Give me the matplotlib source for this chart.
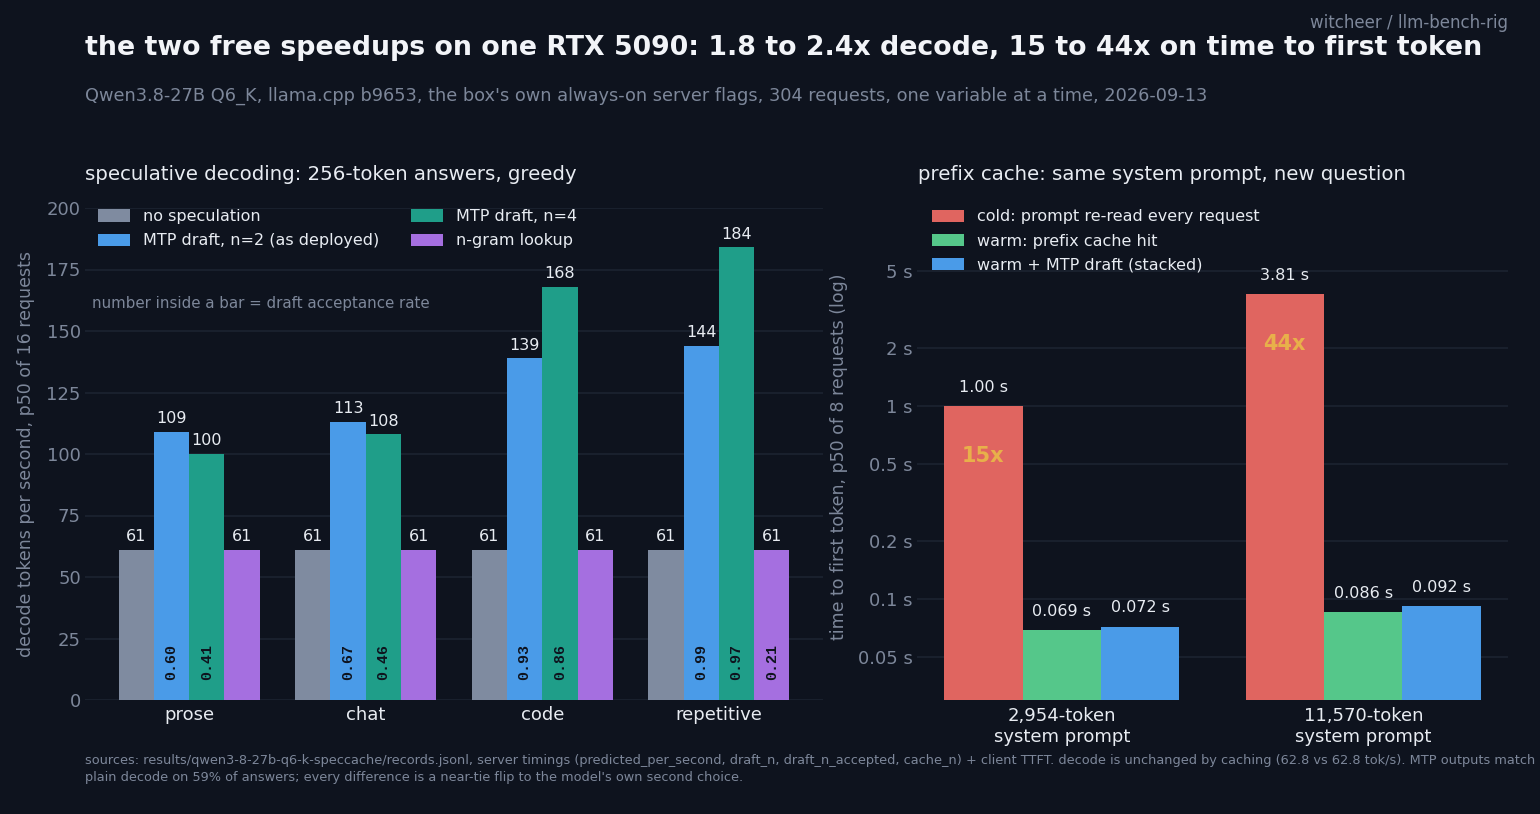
import matplotlib
matplotlib.use("Agg")
import matplotlib.pyplot as plt
import numpy as np
from matplotlib.patches import Patch

# ---------------- data ----------------
categories = ["prose", "chat", "code", "repetitive"]
series_names = ["no speculation", "MTP draft, n=2 (as deployed)", "MTP draft, n=4", "n-gram lookup"]
no_spec = [61, 61, 61, 61]
mtp_n2 = [109, 113, 139, 144]
mtp_n4 = [100, 108, 168, 184]
ngram = [61, 61, 61, 61]
acc_n2 = [0.60, 0.67, 0.93, 0.99]
acc_n4 = [0.41, 0.46, 0.86, 0.97]
acc_ngram = [None, None, None, 0.21]

prompt_labels = ["2,954-token\nsystem prompt", "11,570-token\nsystem prompt"]
ttft_names = ["cold: prompt re-read every request", "warm: prefix cache hit", "warm + MTP draft (stacked)"]
ttft_cold = [1.00, 3.81]
ttft_warm = [0.069, 0.086]
ttft_warm_mtp = [0.072, 0.092]
speedup_labels = ["15x", "44x"]
ttft_ticks = [0.05, 0.1, 0.2, 0.5, 1, 2, 5]
ttft_tick_labels = ["0.05 s", "0.1 s", "0.2 s", "0.5 s", "1 s", "2 s", "5 s"]

# ---------------- style ----------------
BG = "#0e131e"
GRID = "#1c2331"
TXT = "#e8ecf2"
MUTED = "#7d879a"
C_GRAY = "#7f8ba0"
C_BLUE = "#4a9be8"
C_TEAL = "#1f9e89"
C_PURP = "#a56fe0"
C_RED = "#e06560"
C_GREEN = "#55c78a"
C_GOLD = "#e8b04a"

plt.rcParams["font.family"] = ["DejaVu Sans"]

W, H = 1540, 814
fig = plt.figure(figsize=(W / 100, H / 100), dpi=100, facecolor=BG)

def fx(px):
    return px / W

def fy(py):
    return 1 - py / H

# ---------------- left axes ----------------
axL = fig.add_axes([fx(85), fy(700), fx(823 - 85), (700 - 208) / H], facecolor=BG)
x = np.arange(len(categories))
bw = 0.2
series = [no_spec, mtp_n2, mtp_n4, ngram]
colors = [C_GRAY, C_BLUE, C_TEAL, C_PURP]
accs = [None, acc_n2, acc_n4, acc_ngram]
for i, (vals, col, acc) in enumerate(zip(series, colors, accs)):
    xs = x + (i - 1.5) * bw
    axL.bar(xs, vals, width=bw, color=col, zorder=3, linewidth=0)
    for xi, v in zip(xs, vals):
        axL.annotate(f"{v}", (xi, v), xytext=(0, 4), textcoords="offset points",
                     ha="center", va="bottom", color=TXT, fontsize=11.5)
    if acc is not None:
        for xi, a in zip(xs, acc):
            if a is None:
                continue
            axL.text(xi, 8, f"{a:.2f}", rotation=90, ha="center", va="bottom",
                     color=BG, fontsize=10.8, fontweight="bold", family="Liberation Mono")

axL.set_xlim(-0.59, 3.59)
axL.set_ylim(0, 200)
axL.set_yticks([0, 25, 50, 75, 100, 125, 150, 175, 200])
axL.set_xticks(x)
axL.set_xticklabels(categories, fontsize=13)
for lab in axL.get_xticklabels():
    lab.set_color(TXT)
axL.tick_params(axis="y", colors=MUTED, labelsize=13, length=0, pad=3)
axL.tick_params(axis="x", length=0, pad=4)
axL.grid(axis="y", color=GRID, linewidth=1.2, zorder=0)
axL.set_axisbelow(True)
for s in axL.spines.values():
    s.set_visible(False)
axL.set_ylabel("decode tokens per second, p50 of 16 requests", color=MUTED, fontsize=12.5, labelpad=8)

handlesL = [Patch(facecolor=c, edgecolor="none") for c in colors]
axL.legend(handlesL, series_names, loc="upper left", ncol=2, frameon=False,
           fontsize=11.5, labelcolor=TXT, bbox_to_anchor=(-0.002, 1.027),
           handlelength=2.0, handleheight=0.8, handletextpad=0.8,
           columnspacing=2.0, labelspacing=0.58)
axL.text(0.01, 0.805, "number inside a bar = draft acceptance rate", transform=axL.transAxes,
         color=MUTED, fontsize=10.85, ha="left", va="center")

# ---------------- right axes ----------------
axR = fig.add_axes([fx(917), fy(700), fx(1508 - 917), 487 / H], facecolor=BG)
xr = np.arange(len(prompt_labels))
bwr = 0.26
rseries = [ttft_cold, ttft_warm, ttft_warm_mtp]
rcolors = [C_RED, C_GREEN, C_BLUE]
for i, (vals, col) in enumerate(zip(rseries, rcolors)):
    xs = xr + (i - 1) * bwr
    axR.bar(xs, vals, width=bwr, color=col, zorder=3, linewidth=0, bottom=0)
    for xi, v in zip(xs, vals):
        lab = f"{v:.2f} s" if v >= 1 else f"{v:.3f} s"
        axR.annotate(lab, (xi, v), xytext=(0, 8), textcoords="offset points",
                     ha="center", va="bottom", color=TXT, fontsize=11.5)
for xi, c, s in zip(xr - bwr, ttft_cold, speedup_labels):
    axR.text(xi, c * 0.55, s, ha="center", va="center",
             color=C_GOLD, fontsize=15, fontweight="bold")

axR.set_yscale("log")
axR.set_ylim(0.03, 10)
axR.set_xlim(-0.48, 1.48)
axR.set_yticks(ttft_ticks)
axR.set_yticklabels(ttft_tick_labels)
axR.minorticks_off()
axR.set_xticks(xr)
axR.set_xticklabels(prompt_labels, fontsize=13)
for lab in axR.get_xticklabels():
    lab.set_color(TXT)
axR.tick_params(axis="y", colors=MUTED, labelsize=13, length=0, pad=3, which="both")
axR.tick_params(axis="x", length=0, pad=5)
axR.grid(axis="y", color=GRID, linewidth=1.2, zorder=0, which="major")
axR.set_axisbelow(True)
for s in axR.spines.values():
    s.set_visible(False)
axR.set_ylabel("time to first token, p50 of 8 requests (log)", color=MUTED, fontsize=12.5, labelpad=7)

handlesR = [Patch(facecolor=c, edgecolor="none") for c in rcolors]
axR.legend(handlesR, ttft_names, loc="upper left", ncol=1, frameon=False,
           fontsize=11.5, labelcolor=TXT, bbox_to_anchor=(0.0015, 1.037),
           handlelength=2.0, handleheight=0.8, handletextpad=0.8, labelspacing=0.58)

# ---------------- texts ----------------
fig.text(fx(1508), fy(23), "witcheer / llm-bench-rig", ha="right", va="center", color=MUTED, fontsize=12)
fig.text(fx(85), fy(48), "the two free speedups on one RTX 5090: 1.8 to 2.4x decode, 15 to 44x on time to first token",
         ha="left", va="center", color="#f2f4f8", fontsize=19.25, fontweight="bold")
fig.text(fx(85), fy(96), "Qwen3.8-27B Q6_K, llama.cpp b9653, the box's own always-on server flags, 304 requests, one variable at a time, 2026-09-13",
         ha="left", va="center", color=MUTED, fontsize=12.8)
fig.text(fx(85), fy(174), "speculative decoding: 256-token answers, greedy", ha="left", va="center", color=TXT, fontsize=14.25)
fig.text(fx(918), fy(174), "prefix cache: same system prompt, new question", ha="left", va="center", color=TXT, fontsize=14.25)
fig.text(fx(85), fy(769),
         "sources: results/qwen3-8-27b-q6-k-speccache/records.jsonl, server timings (predicted_per_second, draft_n, draft_n_accepted, cache_n) + client TTFT. decode is unchanged by caching (62.8 vs 62.8 tok/s). MTP outputs match\n"
         "plain decode on 59% of answers; every difference is a near-tie flip to the model's own second choice.",
         ha="left", va="center", color=MUTED, fontsize=9.25, linespacing=1.38)

fig.savefig("out.png", dpi=100, facecolor=BG)
